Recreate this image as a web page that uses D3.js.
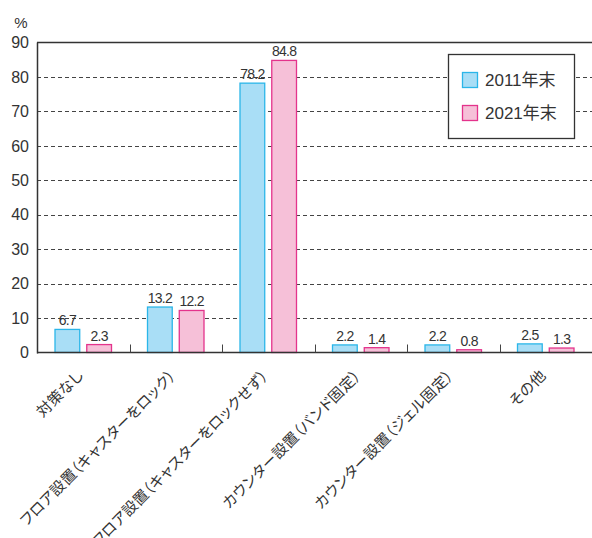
<!DOCTYPE html>
<html>
<head>
<meta charset="utf-8">
<script src="https://cdn.jsdelivr.net/npm/d3@7"></script>
<style>
  html, body { margin: 0; padding: 0; background: #fff; }
  svg { display: block; }
  text { fill: #333; }
</style>
</head>
<body>
<svg id="chart" width="592" height="538"></svg>
<script>
// Earthquake countermeasures for equipment, share of respondents (%)
const categories = [
  "対策なし",
  "フロア設置（キャスターをロック）",
  "フロア設置（キャスターをロックせず）",
  "カウンター設置（バンド固定）",
  "カウンター設置（ジェル固定）",
  "その他"
];
const seriesNames = ["2011年末", "2021年末"];
const values2011 = [6.7, 13.2, 78.2, 2.2, 2.2, 2.5];
const values2021 = [2.3, 12.2, 84.8, 1.4, 0.8, 1.3];
const yTicks = [0, 10, 20, 30, 40, 50, 60, 70, 80, 90];

const fills = ["#a9def6", "#f6c0d8"];
const strokes = ["#2bb6e9", "#e4338c"];
const numFont = "'Liberation Sans', Arial, 'Noto Sans CJK JP', sans-serif";
const jpFont = "'Noto Sans CJK JP', 'Liberation Sans', sans-serif";

const svg = d3.select("#chart");
const plotLeft = 37, plotRight = 592, plotTop = 42.5, plotBottom = 352.5;

const y = d3.scaleLinear().domain([0, 90]).range([plotBottom, plotTop]);
const x = d3.scaleBand().domain(categories).range([plotLeft, plotRight]).padding(0);
const bw = x.bandwidth();
const xs = d3.scaleBand().domain(seriesNames).range([17.5, bw - 17.5]).paddingInner(0.19);

// dashed gridlines
svg.append("g")
  .selectAll("line")
  .data(yTicks.filter(t => t > 0 && t < 90))
  .join("line")
  .attr("x1", plotLeft).attr("x2", plotRight)
  .attr("y1", d => Math.round(y(d)) + 0.5).attr("y2", d => Math.round(y(d)) + 0.5)
  .attr("stroke", "#444").attr("stroke-width", 1)
  .attr("stroke-dasharray", "4,3");

// y axis labels
svg.append("g")
  .selectAll("text")
  .data(yTicks)
  .join("text")
  .attr("x", 29)
  .attr("y", d => y(d))
  .attr("dy", "0.36em")
  .attr("text-anchor", "end")
  .style("font-family", numFont)
  .style("font-size", "16px")
  .text(d => d);

svg.append("text")
  .attr("x", 21).attr("y", 28)
  .attr("text-anchor", "middle")
  .style("font-family", numFont)
  .style("font-size", "15px")
  .text("%");

// bars
const data = categories.map((c, i) => ({
  cat: c,
  vals: [values2011[i], values2021[i]]
}));

const groups = svg.append("g")
  .selectAll("g")
  .data(data)
  .join("g")
  .attr("transform", d => `translate(${x(d.cat)},0)`);

groups.selectAll("rect")
  .data(d => d.vals.map((v, j) => ({ v, j })))
  .join("rect")
  .attr("x", d => xs(seriesNames[d.j]) + 0.5)
  .attr("y", d => y(d.v))
  .attr("width", xs.bandwidth() - 1)
  .attr("height", d => y(0) - y(d.v))
  .attr("fill", d => fills[d.j])
  .attr("stroke", d => strokes[d.j])
  .attr("stroke-width", 1.3);

groups.selectAll("text.val")
  .data(d => d.vals.map((v, j) => ({ v, j })))
  .join("text")
  .attr("class", "val")
  .attr("x", d => xs(seriesNames[d.j]) + xs.bandwidth() / 2)
  .attr("y", d => y(d.v) - 4)
  .attr("text-anchor", "middle")
  .style("font-family", numFont)
  .style("font-size", "14px")
  .style("letter-spacing", "-0.7px")
  .text(d => d.v.toFixed(1));

// plot frame: left axis, top line, baseline
svg.append("line")
  .attr("x1", plotLeft + 0.5).attr("x2", plotLeft + 0.5)
  .attr("y1", plotTop).attr("y2", plotBottom + 1)
  .attr("stroke", "#333").attr("stroke-width", 1.5);
svg.append("line")
  .attr("x1", plotLeft).attr("x2", plotRight)
  .attr("y1", plotTop).attr("y2", plotTop)
  .attr("stroke", "#333").attr("stroke-width", 1.5);
svg.append("line")
  .attr("x1", plotLeft).attr("x2", plotRight)
  .attr("y1", plotBottom).attr("y2", plotBottom)
  .attr("stroke", "#333").attr("stroke-width", 1.5);

// category separator ticks
svg.append("g")
  .selectAll("line")
  .data(categories.slice(1))
  .join("line")
  .attr("x1", d => Math.round(x(d)) + 0.5).attr("x2", d => Math.round(x(d)) + 0.5)
  .attr("y1", plotBottom - 8).attr("y2", plotBottom)
  .attr("stroke", "#444").attr("stroke-width", 1);

// rotated category labels (proportional kana widths)
svg.append("g")
  .selectAll("text")
  .data(categories)
  .join("text")
  .attr("transform", d => `translate(${x(d) + bw / 2 + 1},${plotBottom + 24}) rotate(-45)`)
  .attr("text-anchor", "end")
  .style("font-family", jpFont)
  .style("font-size", "15px")
  .style("letter-spacing", "0.3px")
  .style("font-feature-settings", "'palt' 1")
  .text(d => d);

// legend
const lg = svg.append("g").attr("transform", "translate(448,54)");
lg.append("rect")
  .attr("x", 0.5).attr("y", 0.5)
  .attr("width", 126).attr("height", 84)
  .attr("fill", "#fff").attr("stroke", "#333").attr("stroke-width", 1.3);
seriesNames.forEach((name, j) => {
  const row = lg.append("g").attr("transform", `translate(14,${18 + j * 33})`);
  row.append("rect")
    .attr("x", 0.5).attr("y", 0.5)
    .attr("width", 15).attr("height", 15)
    .attr("fill", fills[j]).attr("stroke", strokes[j]).attr("stroke-width", 1.3);
  row.append("text")
    .attr("x", 23).attr("y", 8)
    .attr("dy", "0.36em")
    .style("font-family", numFont)
    .style("font-size", "17px")
    .text(name);
});
</script>
</body>
</html>
